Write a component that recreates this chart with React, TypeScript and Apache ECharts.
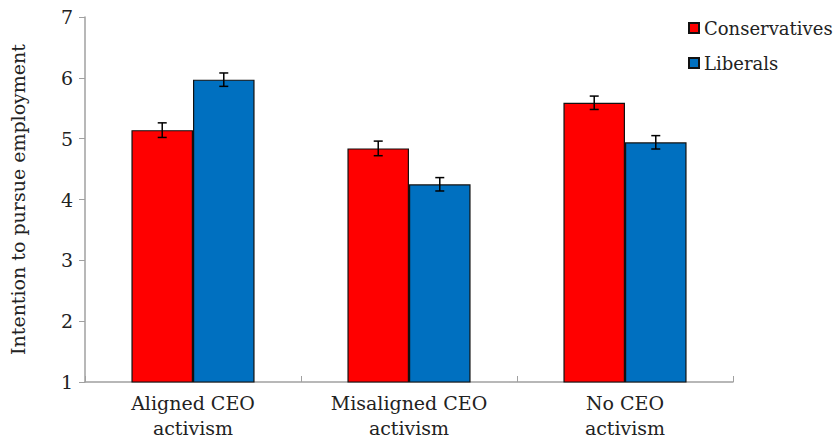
import React, { useEffect, useRef } from "react";
import * as echarts from "echarts";

const categories = ["Aligned CEO\nactivism", "Misaligned CEO\nactivism", "No CEO\nactivism"];
const seriesNames = ["Conservatives", "Liberals"];
const conservatives = [5.14, 4.84, 5.59];
const liberals = [5.97, 4.25, 4.94];
const conservativesErr = [0.12, 0.12, 0.11];
const liberalsErr = [0.11, 0.11, 0.11];
const yTicks = [1, 2, 3, 4, 5, 6, 7];

const FONT = "DejaVu Serif";
const GAP = 0.43;

function errorSeries(values: number[], errs: number[], idx: number) {
  return {
    type: "custom",
    name: seriesNames[idx] + " error",
    data: values.map((v, i) => [i, v - errs[i], v + errs[i]]),
    z: 10,
    silent: true,
    renderItem: (params: any, api: any) => {
      const ci = api.value(0);
      const lo = api.coord([ci, api.value(1)]);
      const hi = api.coord([ci, api.value(2)]);
      const catW = api.size([1, 0])[0];
      const barW = (catW * (1 - GAP)) / 2;
      const x = lo[0] + (idx === 0 ? -barW / 2 : barW / 2);
      const cap = 4.5;
      const style = { stroke: "#000", lineWidth: 1.5 };
      return {
        type: "group",
        children: [
          { type: "line", shape: { x1: x, y1: lo[1], x2: x, y2: hi[1] }, style },
          { type: "line", shape: { x1: x - cap, y1: lo[1], x2: x + cap, y2: lo[1] }, style },
          { type: "line", shape: { x1: x - cap, y1: hi[1], x2: x + cap, y2: hi[1] }, style },
        ],
      };
    },
  };
}

export default function App() {
  const ref = useRef<HTMLDivElement>(null);
  useEffect(() => {
    document.body.style.margin = "0";
    const chart = echarts.init(ref.current!, null, { renderer: "svg" });
    chart.setOption({
      animation: false,
      textStyle: { fontFamily: FONT },
      legend: {
        data: seriesNames,
        orient: "vertical",
        left: 683,
        top: 14,
        itemWidth: 10,
        itemHeight: 10,
        itemGap: 17,
        icon: "rect",
        textStyle: { fontFamily: FONT, fontSize: 18, color: "#222" },
      },
      grid: { left: 82, right: 106, top: 17, bottom: 57 },
      xAxis: {
        type: "category",
        data: categories,
        axisLine: { lineStyle: { color: "#a0a0a0", width: 1.5 } },
        axisTick: { show: true, inside: true, length: 6, lineStyle: { color: "#a0a0a0" } },
        axisLabel: { fontFamily: FONT, fontSize: 19, color: "#222", lineHeight: 25, margin: 8 },
      },
      yAxis: {
        type: "value",
        min: yTicks[0],
        max: yTicks[yTicks.length - 1],
        interval: 1,
        name: "Intention to pursue employment",
        nameLocation: "middle",
        nameGap: 58,
        nameTextStyle: { fontFamily: FONT, fontSize: 19, color: "#222" },
        axisLine: { show: true, lineStyle: { color: "#a0a0a0", width: 1.5 } },
        axisTick: { show: true, length: 6, lineStyle: { color: "#a0a0a0" } },
        splitLine: { show: false },
        axisLabel: { fontFamily: FONT, fontSize: 19, color: "#222", margin: 12 },
      },
      series: [
        {
          type: "bar",
          name: seriesNames[0],
          data: conservatives,
          barGap: "0%",
          barCategoryGap: GAP * 100 + "%",
          itemStyle: { color: "#ff0000", borderColor: "#111", borderWidth: 1.2 },
        },
        {
          type: "bar",
          name: seriesNames[1],
          data: liberals,
          barGap: "0%",
          barCategoryGap: GAP * 100 + "%",
          itemStyle: { color: "#0070c0", borderColor: "#111", borderWidth: 1.2 },
        },
        errorSeries(conservatives, conservativesErr, 0),
        errorSeries(liberals, liberalsErr, 1),
      ],
    });
    return () => chart.dispose();
  }, []);
  return <div ref={ref} style={{ width: 839, height: 440 }} />;
}
